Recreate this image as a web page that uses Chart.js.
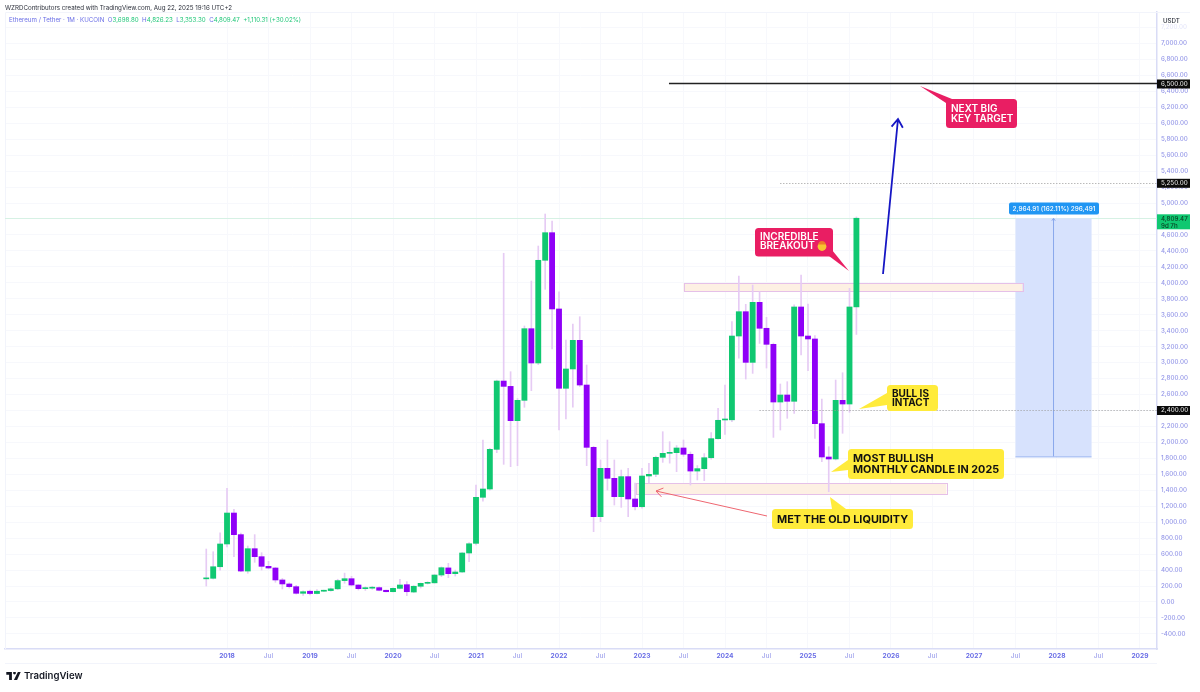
<!DOCTYPE html>
<html>
<head>
<meta charset="utf-8">
<title>ETHUSDT monthly</title>
<script src="https://cdn.jsdelivr.net/npm/chart.js@4/dist/chart.umd.min.js"></script>
<style>
  html, body { margin: 0; padding: 0; background: #fff; }
  body { width: 1200px; height: 692px; position: relative; overflow: hidden; font-family: Inter, sans-serif; }
  canvas { position: absolute; left: 0; top: 0; }
  .line { position: absolute; white-space: nowrap; font-size: 6.2px; line-height: 10px; }
  .blue { color: #6a6ee6; }
  .green { color: #22c77a; }
  #logo { position: absolute; left: 6px; top: 670px; display: flex; align-items: center; gap: 3px; font-size: 9.6px; font-weight: 600; color: #131722; }
</style>
</head>
<body>
<canvas id="chart" width="1200" height="692"></canvas>
<div class="line" style="left:5px;top:3px;color:#2a2e39">WZRDContributors created with TradingView.com, Aug 22, 2025 19:16 UTC+2</div>
<div class="line" style="left:9px;top:15px">
  <span class="blue">Ethereum / Tether · 1M · KUCOIN</span>&nbsp;
  <span class="blue">O</span><span class="green">3,698.80</span>&nbsp;
  <span class="blue">H</span><span class="green">4,826.23</span>&nbsp;
  <span class="blue">L</span><span class="green">3,353.30</span>&nbsp;
  <span class="blue">C</span><span class="green">4,809.47</span>&nbsp;
  <span class="green">+1,110.31 (+30.02%)</span>
</div>
<div id="logo">
  <svg width="15" height="8" viewBox="0 0 36 20"><path fill="#131722" d="M0 0h14v20H7V7H0zM29 0h7l-9 20h-8zM17 2.5a3.5 3.5 0 1 0 7 0a3.5 3.5 0 1 0-7 0z"/></svg>
  <span>TradingView</span>
</div>

<script>
// ── Data (month 0 = Jan 2018, one bar per month from Oct 2017) ──────────
const firstMonth = -3;
const opens = [
  290, 297, 442,
  727, 1115, 844, 388, 668, 568, 447, 426, 276, 226, 192, 109,
  135, 106, 135, 143, 165, 268, 292, 213, 167, 173, 180, 147,
  129, 171, 217, 125, 197, 234, 240, 338, 427, 355, 376, 614,
  735, 1312, 1416, 1913, 2769, 2702, 2272, 2527, 3425, 2995, 4282, 4628,
  3672, 2678, 2920, 3279, 2719, 1938, 1069, 1675, 1550, 1320, 1571, 1291,
  1194, 1579, 1600, 1813, 1863, 1871, 1930, 1851, 1641, 1671, 1808, 2047,
  2281, 2283, 3333, 3638, 3003, 3755, 3430, 3229, 2506, 2594, 2515, 3697,
  3333, 3296, 2235, 1817, 1792, 2527, 2481, 3698
];
const closes = [
  297, 442, 727,
  1115, 844, 388, 668, 568, 447, 426, 276, 226, 192, 109, 129,
  106, 135, 143, 165, 268, 292, 213, 167, 173, 180, 147, 129,
  171, 213, 129, 197, 234, 240, 338, 430, 355, 376, 614, 730,
  1312, 1416, 1913, 2769, 2702, 2272, 2527, 3425, 2995, 4282, 4628, 3672,
  2678, 2920, 3279, 2719, 1938, 1069, 1675, 1550, 1320, 1571, 1291, 1194,
  1579, 1600, 1813, 1863, 1870, 1930, 1851, 1641, 1671, 1808, 2047, 2277,
  2283, 3333, 3638, 3003, 3755, 3430, 3229, 2506, 2594, 2515, 3697, 3333,
  3296, 2235, 1817, 1792, 2527, 2481, 3697, 4809
];
const highs = [
  664, 630, 868,
  1424, 1162, 865, 702, 844, 618, 510, 432, 295, 240, 209, 140,
  150, 155, 148, 175, 285, 362, 322, 217, 190, 197, 190, 150,
  178, 284, 255, 205, 238, 255, 345, 440, 485, 400, 620, 745,
  1466, 2030, 1925, 2780, 4370, 2886, 2550, 3459, 4022, 4461, 4862, 4774,
  3888, 3283, 3483, 3575, 2970, 1950, 1780, 2030, 1780, 1654, 1675, 1491,
  1675, 1738, 1830, 2134, 2009, 1960, 2030, 1880, 1710, 1860, 2122, 2427,
  2717, 3513, 4085, 3730, 3972, 3888, 3567, 3245, 2732, 2761, 3725, 4098,
  3734, 3340, 2544, 1946, 2782, 2873, 3931, 4826
];
const lows = [
  200, 288, 400,
  690, 568, 380, 360, 497, 400, 414, 247, 163, 175, 100, 83,
  90, 100, 130, 135, 155, 235, 200, 150, 145, 160, 140, 125,
  125, 165, 80, 118, 175, 225, 235, 317, 305, 325, 370, 505,
  715, 1265, 1400, 1871, 1725, 1696, 1708, 2440, 2648, 2975, 3918, 3170,
  2155, 2293, 2440, 2700, 1708, 881, 1006, 1403, 1215, 1186, 1069, 1153,
  1175, 1491, 1570, 1750, 1740, 1633, 1825, 1466, 1529, 1520, 1790, 2040,
  2100, 2260, 3054, 2794, 2865, 3240, 2932, 2063, 2155, 2302, 2364, 3095,
  2899, 2051, 1760, 1382, 1780, 2114, 2377, 3353
];
const months = opens.map((_, i) => firstMonth + i);

const yTicks = [-400, -200, 0, 200, 400, 600, 800, 1000, 1200, 1400, 1600, 1800, 2000, 2200, 2400, 2600, 2800, 3000, 3200, 3400, 3600, 3800, 4000, 4200, 4400, 4600, 4800, 5000, 5200, 5400, 5600, 5800, 6000, 6200, 6400, 6600, 6800, 7000, 7200];
const xTicks = [0, 6, 12, 18, 24, 30, 36, 42, 48, 54, 60, 66, 72, 78, 84, 90, 96, 102, 108, 114, 120, 126, 132];
const xTickLabels = ['2018', 'Jul', '2019', 'Jul', '2020', 'Jul', '2021', 'Jul', '2022', 'Jul', '2023', 'Jul', '2024', 'Jul', '2025', 'Jul', '2026', 'Jul', '2027', 'Jul', '2028', 'Jul', '2029'];

// Drawing objects, in chart values: [from month, to month, top price, bottom price]
const zones = [[66, 115, 3993, 3893], [59.1, 104, 1485, 1353]];
const measureBox = [114, 125, 4809, 1825];
const levels = [[6500, 63.9, 'solid'], [5250, 80, 'dotted'], [2400, 77, 'dotted']];
const lastPrice = 4809.47;

const GREEN = '#10c871', PURPLE = '#8f00f7', WICK = '#e6cbf4', TICK = '#9497e8';
const AXIS_LINE = '#d9dcf6', GRID = '#f7f8fc';
const FONT = 'Inter, sans-serif';

// ── Annotation helpers ──────────────────────────────────
function roundBox(ctx, x, y, w, h, r, fill) {
  ctx.fillStyle = fill;
  ctx.beginPath();
  ctx.roundRect(x, y, w, h, r);
  ctx.fill();
}

function callout(ctx, c) {
  ctx.fillStyle = c.fill;
  ctx.beginPath();
  ctx.moveTo(c.tip[0], c.tip[1]);
  ctx.lineTo(c.base[0], c.base[1]);
  ctx.lineTo(c.base[2], c.base[3]);
  ctx.closePath();
  ctx.fill();
  roundBox(ctx, c.x, c.y, c.w, c.h, 3.5, c.fill);
  ctx.fillStyle = c.color;
  ctx.font = `${c.weight} ${c.size}px ${FONT}`;
  ctx.textAlign = 'left';
  ctx.textBaseline = 'middle';
  const top = c.y + c.h / 2 - (c.text.length - 1) * c.lh / 2 + (c.dy || 0);
  c.text.forEach((t, i) => ctx.fillText(t, c.x + c.pad, top + i * c.lh + 0.5));
}

function arrow(ctx, x0, y0, x1, y1, color, width, head) {
  const a = Math.atan2(y1 - y0, x1 - x0);
  ctx.strokeStyle = color;
  ctx.lineWidth = width;
  ctx.beginPath();
  ctx.moveTo(x0, y0);
  ctx.lineTo(x1, y1);
  ctx.moveTo(x1 - head * Math.cos(a - 0.6), y1 - head * Math.sin(a - 0.6));
  ctx.lineTo(x1, y1);
  ctx.lineTo(x1 - head * Math.cos(a + 0.6), y1 - head * Math.sin(a + 0.6));
  ctx.stroke();
}

function priceTag(ctx, top, h, fill, color, lines) {
  ctx.fillStyle = fill;
  ctx.fillRect(1157, top, 33, h);
  ctx.fillStyle = color;
  ctx.font = `500 6.2px ${FONT}`;
  ctx.textAlign = 'left';
  ctx.textBaseline = 'middle';
  lines.forEach((t, i) => ctx.fillText(t, 1161, top + 4.5 + i * 7));
}

const callouts = [
  { x: 946, y: 99, w: 71, h: 29, fill: '#e91e63', color: '#fff', weight: 600, size: 10, lh: 10, pad: 5, text: ['NEXT BIG', 'KEY TARGET'], tip: [920, 86], base: [946, 103, 952, 99] },
  { x: 755, y: 228, w: 78, h: 28.5, fill: '#e91e63', color: '#fff', weight: 600, size: 10, lh: 9.5, pad: 5, dy: -1.3, text: ['INCREDIBLE', 'BREAKOUT'], tip: [849, 271], base: [829, 256, 832, 250] },
  { x: 887, y: 385, w: 51, h: 26, fill: '#ffeb3b', color: '#111', weight: 700, size: 10, lh: 9.5, pad: 5, text: ['BULL IS', 'INTACT'], tip: [859, 409], base: [887, 393, 887, 405] },
  { x: 848, y: 449, w: 156, h: 30, fill: '#ffeb3b', color: '#111', weight: 700, size: 10.8, lh: 10.7, pad: 5, text: ['MOST BULLISH', 'MONTHLY CANDLE IN 2025'], tip: [831, 472], base: [848, 460, 848, 470] },
  { x: 772, y: 509, w: 141, h: 20, fill: '#ffeb3b', color: '#111', weight: 700, size: 10.9, lh: 10.7, pad: 5, text: ['MET THE OLD LIQUIDITY'], tip: [830, 497], base: [832, 509, 846, 509] }
];

const annotations = {
  id: 'annotations',
  beforeDatasetsDraw(chart) {
    const { ctx, scales: { x, y }, chartArea } = chart;
    ctx.save();
    // frame around the pane
    ctx.strokeStyle = '#f2f4fb';
    ctx.lineWidth = 1;
    ctx.beginPath();
    ctx.moveTo(5.5, chartArea.bottom);
    ctx.lineTo(5.5, 12.5);
    ctx.lineTo(1190, 12.5);
    ctx.moveTo(5, 663.5);
    ctx.lineTo(1157, 663.5);
    ctx.stroke();
    // current price line
    ctx.strokeStyle = '#d6f1e4';
    ctx.beginPath();
    ctx.moveTo(chartArea.left, Math.round(y.getPixelForValue(lastPrice)) + 0.5);
    ctx.lineTo(chartArea.right, Math.round(y.getPixelForValue(lastPrice)) + 0.5);
    ctx.stroke();
    // measure box
    const [m0, m1, mTop, mBot] = measureBox;
    const bx = x.getPixelForValue(m0), bw = x.getPixelForValue(m1) - bx;
    const by = y.getPixelForValue(mTop), bh = y.getPixelForValue(mBot) - by;
    ctx.fillStyle = '#d7e2fd';
    ctx.fillRect(bx, by, bw, bh);
    ctx.strokeStyle = '#90aef0';
    ctx.beginPath();
    ctx.moveTo(bx, by + bh + 0.5);
    ctx.lineTo(bx + bw, by + bh + 0.5);
    ctx.stroke();
    arrow(ctx, bx + bw / 2, by + bh, bx + bw / 2, by, '#8aa8ec', 1, 3);
    // liquidity zones
    zones.forEach(([i0, i1, top, bottom]) => {
      const zx = x.getPixelForValue(i0), zy = y.getPixelForValue(top);
      const zw = x.getPixelForValue(i1) - zx, zh = y.getPixelForValue(bottom) - zy;
      ctx.fillStyle = '#fdf0e3';
      ctx.strokeStyle = '#e5c0e8';
      ctx.fillRect(zx, zy, zw, zh);
      ctx.strokeRect(Math.round(zx) + 0.5, Math.round(zy) + 0.5, Math.round(zw), Math.round(zh));
    });
    ctx.restore();
  },
  afterDatasetsDraw(chart) {
    const { ctx, scales: { x, y }, chartArea } = chart;
    ctx.save();
    // horizontal levels
    levels.forEach(([price, from, kind]) => {
      const py = Math.round(y.getPixelForValue(price)) + 0.5;
      ctx.strokeStyle = kind === 'solid' ? '#222' : '#999';
      ctx.lineWidth = kind === 'solid' ? 1.3 : 1;
      ctx.setLineDash(kind === 'solid' ? [] : [1, 2]);
      ctx.beginPath();
      ctx.moveTo(x.getPixelForValue(from), py);
      ctx.lineTo(chartArea.right, py);
      ctx.stroke();
    });
    ctx.setLineDash([]);
    // arrows
    arrow(ctx, 883, 274, 898, 119, '#1616c4', 1.8, 10);
    arrow(ctx, 767, 516, 656, 491, '#ee6670', 1, 8);
    // callouts
    callouts.forEach((c) => callout(ctx, c));
    // small emoji stand-in beside BREAKOUT
    ctx.fillStyle = '#f7c531';
    ctx.beginPath(); ctx.arc(822, 246.5, 4.4, 0, Math.PI * 2); ctx.fill();
    ctx.fillStyle = '#ef7a2a';
    ctx.beginPath(); ctx.arc(822, 244.5, 3.6, Math.PI, 0); ctx.fill();
    // measure label
    roundBox(ctx, 1009, 202.5, 90, 12, 2, '#2196f3');
    ctx.fillStyle = '#fff';
    ctx.font = `500 6.4px ${FONT}`;
    ctx.textAlign = 'center';
    ctx.textBaseline = 'middle';
    ctx.fillText('2,964.91 (162.11%) 296,491', 1054, 209);
    // unit + axis tags
    ctx.fillStyle = '#2a2e39';
    ctx.font = `500 6.2px ${FONT}`;
    ctx.textAlign = 'left';
    ctx.fillText('USDT', 1163, 21);
    priceTag(ctx, 79.5, 9, '#0b0b0b', '#ddd', ['6,500.00']);
    priceTag(ctx, 178.8, 9, '#0b0b0b', '#ddd', ['5,250.00']);
    priceTag(ctx, 214.3, 15, GREEN, '#0a3d22', ['4,809.47', '9d 7h']);
    priceTag(ctx, 406, 9, '#0b0b0b', '#ddd', ['2,400.00']);
    ctx.restore();
  }
};

new Chart(document.getElementById('chart'), {
  type: 'bar',
  data: {
    datasets: [
      {
        label: 'Body',
        data: months.map((m, i) => ({ x: m, y: [opens[i], closes[i]] })),
        backgroundColor: months.map((_, i) => (closes[i] >= opens[i] ? GREEN : PURPLE)),
        barThickness: 5.2,
        minBarLength: 1,
        grouped: false,
        order: 1
      },
      {
        label: 'Wick',
        data: months.map((m, i) => ({ x: m, y: [lows[i], highs[i]] })),
        backgroundColor: WICK,
        barThickness: 1,
        grouped: false,
        order: 2
      }
    ]
  },
  options: {
    responsive: false,
    animation: false,
    layout: { padding: { left: 5, top: 12, right: 0, bottom: 29 } },
    plugins: { legend: { display: false }, tooltip: { enabled: false } },
    scales: {
      x: {
        type: 'linear',
        offset: false,
        min: -32.1,
        max: 134.46,
        afterBuildTicks: (s) => { s.ticks = xTicks.map((v) => ({ value: v })); },
        afterFit: (s) => { s.height = 14; },
        grid: { color: GRID, drawTicks: false, offset: false },
        border: { color: AXIS_LINE, width: 1.5 },
        ticks: {
          autoSkip: false,
          maxRotation: 0,
          padding: 3,
          callback: (v) => xTickLabels[xTicks.indexOf(v)],
          font: (c) => ({ family: FONT, size: 6.6, weight: c.tick && /^\d/.test(c.tick.label) ? '700' : '500' }),
          color: (c) => (c.tick && /^\d/.test(c.tick.label) ? '#6a6ee6' : '#a0a3ec')
        }
      },
      y: {
        position: 'right',
        min: -589,
        max: 7393.5,
        afterBuildTicks: (s) => { s.ticks = yTicks.map((v) => ({ value: v })); },
        afterFit: (s) => { s.width = 43; },
        grid: { color: GRID, drawTicks: false },
        border: { color: AXIS_LINE, width: 1.5 },
        ticks: {
          autoSkip: false,
          padding: 4,
          callback: (v) => v.toLocaleString('en-US', { minimumFractionDigits: 2, maximumFractionDigits: 2 }),
          font: { family: FONT, size: 6.2, weight: '500' },
          color: (c) => (c.tick && c.tick.value === 7200 ? '#e6e7fa' : TICK)
        }
      }
    }
  },
  plugins: [annotations]
});
</script>
</body>
</html>
